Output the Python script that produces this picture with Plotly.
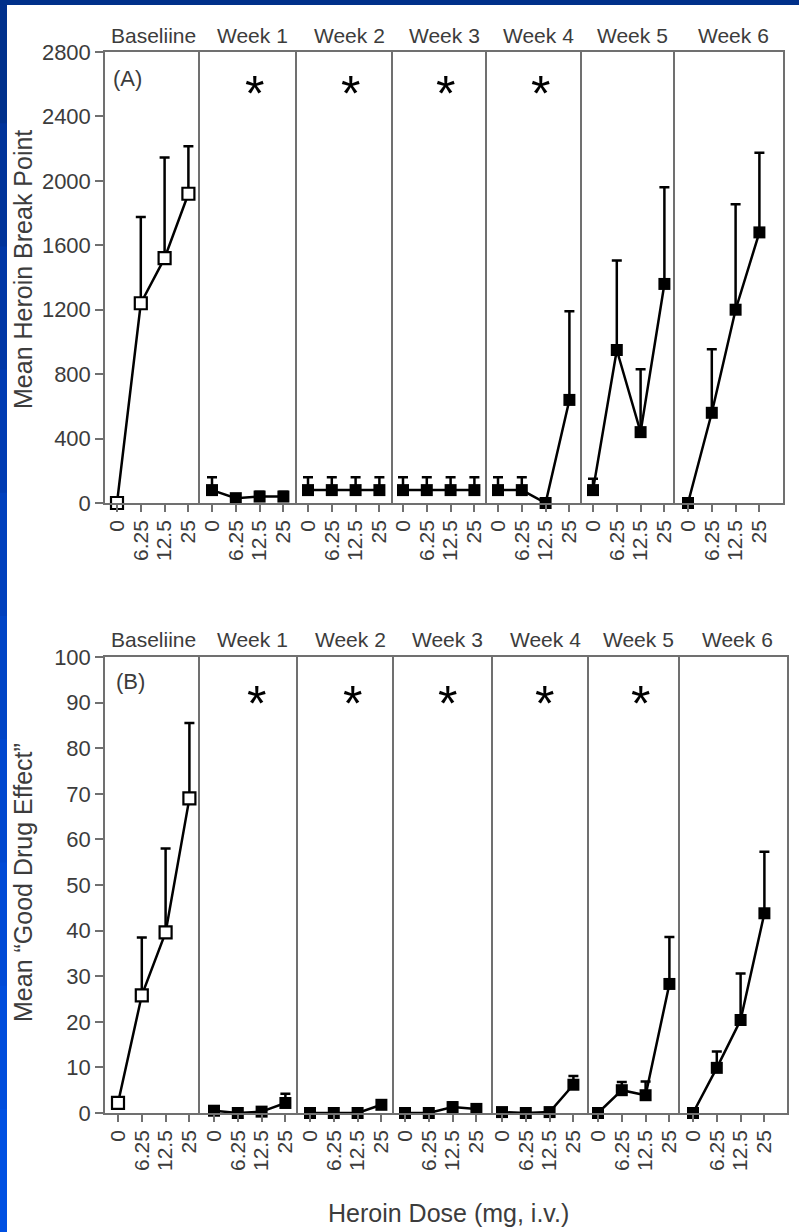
import plotly.graph_objects as go

W, H = 799, 1232

doses = ["0", "6.25", "12.5", "25"]
panels = ["Baseliine", "Week 1", "Week 2", "Week 3", "Week 4", "Week 5", "Week 6"]

# Panel A: Mean heroin break point (mean, upper error limit)
bp_mean = {
    "Baseliine": [0, 1240, 1520, 1920],
    "Week 1": [80, 30, 40, 40],
    "Week 2": [80, 80, 80, 80],
    "Week 3": [80, 80, 80, 80],
    "Week 4": [80, 80, 0, 640],
    "Week 5": [80, 950, 440, 1360],
    "Week 6": [0, 560, 1200, 1680],
}
bp_upper = {
    "Baseliine": [0, 1775, 2145, 2215],
    "Week 1": [160, 30, 70, 70],
    "Week 2": [160, 160, 160, 160],
    "Week 3": [160, 160, 160, 160],
    "Week 4": [160, 160, 0, 1190],
    "Week 5": [150, 1505, 830, 1960],
    "Week 6": [0, 955, 1855, 2175],
}

# Panel B: Mean "Good Drug Effect" (mean, upper error limit)
gde_mean = {
    "Baseliine": [2.2, 25.8, 39.6, 69.0],
    "Week 1": [0.5, 0, 0.3, 2.2],
    "Week 2": [0, 0, 0, 1.8],
    "Week 3": [0, 0, 1.3, 0.9],
    "Week 4": [0.2, 0, 0.2, 6.2],
    "Week 5": [0, 5.0, 3.9, 28.3],
    "Week 6": [0, 9.9, 20.4, 43.8],
}
gde_upper = {
    "Baseliine": [2.2, 38.5, 58.0, 85.5],
    "Week 1": [0.5, 0, 0.3, 4.2],
    "Week 2": [0, 0, 0, 1.8],
    "Week 3": [0, 0, 2.3, 0.9],
    "Week 4": [0.2, 0, 0.2, 8.1],
    "Week 5": [0, 6.8, 6.9, 38.6],
    "Week 6": [0, 13.5, 30.6, 57.3],
}

sig_A = ["Week 1", "Week 2", "Week 3", "Week 4"]
sig_B = ["Week 1", "Week 2", "Week 3", "Week 4", "Week 5"]

# ---- layout geometry (pixels) ----
A_bounds = [105, 200, 297, 393, 487, 582, 675, 783]
A_first = [117, 212, 308, 403, 498, 593, 688]
A_top, A_bot = 52, 503
B_bounds = [105, 200, 298, 394, 493, 589, 680, 787]
B_first = [118, 214, 310, 405, 502, 598, 693]
B_top, B_bot = 657, 1113
STEP = 23.8

TXT = "#3c3c3c"
AX = "#707070"
FONT = "Liberation Sans, Arial, sans-serif"

def px(x):
    return x / W

def py(y):
    return 1 - y / H

fig = go.Figure()
layout = dict(
    template="none",
    width=W, height=H,
    margin=dict(l=0, r=0, t=0, b=0, pad=0),
    paper_bgcolor="white", plot_bgcolor="white",
    showlegend=False,
    font=dict(family=FONT, color=TXT),
)
annotations = []
shapes = []

def add_row(row, bounds, firsts, top, bot, means, uppers, ymax, dtick, sig, offset):
    for i, name in enumerate(panels):
        k = offset + i + 1
        xa = "x" if k == 1 else f"x{k}"
        ya = "y" if k == 1 else f"y{k}"
        xkey = "xaxis" if k == 1 else f"xaxis{k}"
        ykey = "yaxis" if k == 1 else f"yaxis{k}"
        left, right = bounds[i], bounds[i + 1]
        f0 = firsts[i]
        xr = [(left - f0) / STEP, (right - f0) / STEP]
        layout[xkey] = dict(
            domain=[px(left), px(right)], anchor=ya, range=xr, automargin=False,
            tickmode="array", tickvals=[0, 1, 2, 3], ticktext=doses,
            tickangle=-90, ticks="outside", ticklen=7, tickwidth=1.5, tickcolor=AX,
            showline=True, linecolor=AX, linewidth=1.5, mirror=True,
            showgrid=False, zeroline=False,
            tickfont=dict(size=21, color=TXT, family=FONT), fixedrange=True,
        )
        first = (i == 0)
        last = (i == len(panels) - 1)
        layout[ykey] = dict(
            domain=[py(bot), py(top)], anchor=xa, range=[0, ymax], automargin=False,
            tickmode="linear", tick0=0, dtick=dtick,
            ticks="outside" if first else "", ticklen=8, tickwidth=1.5, tickcolor=AX,
            showticklabels=first,
            showline=True, linecolor=AX, linewidth=1.5, mirror=last,
            showgrid=False, zeroline=False,
            tickfont=dict(size=22, color=TXT, family=FONT), fixedrange=True,
        )
        m = means[name]
        u = uppers[name]
        plus = [uu - mm for uu, mm in zip(u, m)]
        base = (i == 0)
        fig.add_trace(go.Scatter(
            x=[0, 1, 2, 3], y=m, xaxis=xa, yaxis=ya,
            mode="lines+markers", cliponaxis=False, hoverinfo="skip",
            line=dict(color="black", width=2.5),
            marker=dict(symbol="square", size=12,
                        color="white" if base else "black",
                        line=dict(color="black", width=2.2 if base else 0)),
            error_y=dict(type="data", symmetric=False, array=plus,
                         arrayminus=[0, 0, 0, 0], color="black",
                         thickness=2.5, width=5),
        ))
        # panel header
        cx = (left + right) / 2 + (4 if i > 0 else 1)
        annotations.append(dict(
            x=px(cx), y=py(top - 17), xref="paper", yref="paper", text=name,
            showarrow=False, font=dict(size=21, color=TXT, family=FONT),
            xanchor="center", yanchor="middle",
        ))
        if name in sig:
            annotations.append(dict(
                x=1.8, y=ymax * (0.92 if row == "A" else 0.91), xref=xa, yref=ya,
                text="*", showarrow=False, yshift=-6,
                font=dict(size=50, color="black", family=FONT),
                xanchor="center", yanchor="middle",
            ))

add_row("A", A_bounds, A_first, A_top, A_bot, bp_mean, bp_upper, 2800, 400, sig_A, 0)
add_row("B", B_bounds, B_first, B_top, B_bot, gde_mean, gde_upper, 100, 10, sig_B, 7)

def label(x, y, text, size, angle=0):
    return dict(x=px(x), y=py(y), xref="paper", yref="paper", text=text, showarrow=False,
                textangle=angle, xanchor="center", yanchor="middle",
                font=dict(size=size, color=TXT, family=FONT))

annotations += [
    label(127, 78, "(A)", 22),
    label(130, 681, "(B)", 22),
    label(23, 270, "Mean Heroin Break Point", 25, -90),
    label(23, 883, "Mean \u201cGood Drug Effect\u201d", 25, -90),
    label(448, 1213, "Heroin Dose (mg, i.v.)", 25),
]

# blue slide frame (top strip + left strip with slight gradient, overlapping bands)
blues = ["#00308c", "#00339a", "#0037a6", "#003bb2", "#0040bd", "#0044c6",
         "#0047cf", "#004ad6", "#004ddc", "#0050e2"]
n = len(blues)
for j, c in enumerate(blues):
    y0 = (H * j / n) if j > 0 else 0
    y1 = min(H, H * (j + 1) / n + 2)
    shapes.append(dict(type="rect", xref="paper", yref="paper", x0=0, x1=px(7),
                       y0=py(y1), y1=py(y0), fillcolor=c, line=dict(width=0), layer="below"))
shapes.append(dict(type="rect", xref="paper", yref="paper", x0=0, x1=1,
                   y0=py(5), y1=1, fillcolor="#00308a", line=dict(width=0), layer="below"))

layout["annotations"] = annotations
layout["shapes"] = shapes
fig.update_layout(**layout)
fig.write_html(
    "out.html",
    config={"displayModeBar": False},
    post_script="document.body.style.margin='0';document.body.style.padding='0';"
                "document.documentElement.style.overflow='hidden';",
)
